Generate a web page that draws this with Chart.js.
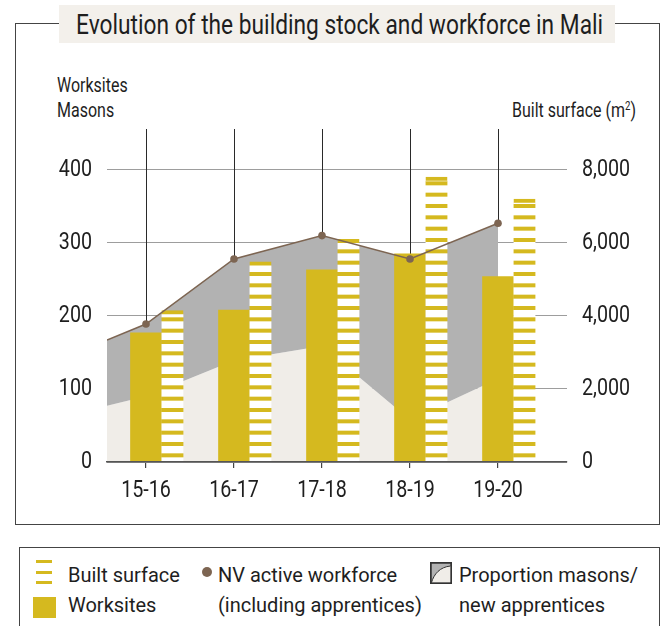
<!DOCTYPE html>
<html lang="en">
<head>
<meta charset="utf-8">
<title>Evolution of the building stock and workforce in Mali</title>
<script src="https://cdn.jsdelivr.net/npm/chart.js@4.4.1/dist/chart.umd.min.js"></script>
<style>
  html, body { margin: 0; padding: 0; background: #fff; }
  body { position: relative; width: 660px; height: 626px; overflow: hidden;
         font-family: Roboto, "Noto Sans", sans-serif; color: #1e1e1e; }
  .abs { position: absolute; white-space: nowrap; line-height: 1; }
  .narrow { transform: scaleX(0.8); transform-origin: 0 0; }
  .narrowR { transform: scaleX(0.8); transform-origin: 100% 0; }
  #frame { position: absolute; left: 15px; top: 23px; width: 645px; height: 502px;
           box-sizing: border-box; border: 1.5px solid #444; }
  #titleBox { position: absolute; left: 59px; top: 5px; width: 556px; height: 38px; background: #f3f0eb; }
  #title { font-size: 28px; left: 76px; top: 11px; transform: scaleX(0.812); transform-origin: 0 0; }
  .axisTitle { font-size: 20px; }
  sup { font-size: 12px; vertical-align: 7px; line-height: 0; }
  #legendBox { position: absolute; left: 19px; top: 547px; width: 641px; height: 100px;
               box-sizing: border-box; border: 1.5px solid #444; }
  .leg { font-size: 20px; }
  #chart { position: absolute; left: 0; top: 0; }
</style>
</head>
<body>
<div id="frame"></div>
<div id="titleBox"></div>
<div id="title" class="abs">Evolution of the building stock and workforce in Mali</div>
<div class="abs axisTitle narrow" style="left:57px; top:75px">Worksites</div>
<div class="abs axisTitle narrow" style="left:57px; top:100px">Masons</div>
<div class="abs axisTitle narrowR" style="right:24px; top:100px">Built surface (m<sup>2</sup>)</div>

<canvas id="chart" width="660" height="540"></canvas>

<div id="legendBox"></div>
<div class="abs" style="left:36px; top:560px; width:16px; height:25px;
     background: repeating-linear-gradient(180deg, #d5b91f 0 3px, transparent 3px 10.5px);"></div>
<div class="abs leg" style="left:68px; top:565px">Built surface</div>
<div class="abs" style="left:33px; top:597px; width:23px; height:21px; background:#d5b91f"></div>
<div class="abs leg" style="left:68px; top:595px">Worksites</div>
<div class="abs" style="left:202px; top:567px; width:10px; height:10px; border-radius:50%; background:#7d6552"></div>
<div class="abs leg" style="left:218px; top:565px">NV active workforce</div>
<div class="abs leg" style="left:218px; top:595px">(including apprentices)</div>
<svg class="abs" style="left:430px; top:562px" width="22" height="22" viewBox="0 0 22 22">
  <rect x="0.75" y="0.75" width="20.5" height="20.5" fill="#b2b2b2" stroke="#333" stroke-width="1.5"/>
  <path d="M1.5 20.5 C4 12 10 5 20.5 4 L20.5 20.5 Z" fill="#f0ede8"/>
  <path d="M1.5 20.5 C4 12 10 5 20.5 4" fill="none" stroke="#333" stroke-width="1"/>
  <rect x="0.75" y="0.75" width="20.5" height="20.5" fill="none" stroke="#333" stroke-width="1.5"/>
</svg>
<div class="abs leg" style="left:459px; top:565px">Proportion masons/</div>
<div class="abs leg" style="left:459px; top:595px">new apprentices</div>

<script>
// seasons on the x axis
const categories = ['15-16', '16-17', '17-18', '18-19', '19-20'];
// left axis: worksites and masons
const worksites = [177, 208, 263, 285, 254];
const workforce = [189, 278, 310, 278, 327];
const apprentices = [90, 139, 159, 58, 114];
// where the shaded band meets the left edge of the plot
const workforceAtEdge = 167;
const apprenticesAtEdge = 77;
// right axis: built surface in m2
const builtSurface = [4150, 5480, 6100, 7800, 7200];
const leftTicks = [0, 100, 200, 300, 400];
const rightTicks = [0, 2000, 4000, 6000, 8000];

const GOLD = '#d5b91f';
const BROWN = '#7d6552';
const INK = '#1e1e1e';
const X_MIN = -0.443, X_MAX = 4.784;
const BAR_SHIFT = 0.301;     // hatched bars sit right of the solid ones
const Y_MAX = 456;
const SURFACE_SCALE = 20;    // 8,000 m2 lines up with 400
const NARROW = 0.82;

const canvas = document.getElementById('chart');
const ctx = canvas.getContext('2d');
// condensed look for the tick labels
const plainFillText = ctx.fillText.bind(ctx);
ctx.fillText = (text, x, y) => plainFillText(text, x, y, ctx.measureText(text).width * NARROW);

function stripes() {
  const c = document.createElement('canvas');
  c.width = 4; c.height = 34;
  const g = c.getContext('2d');
  g.fillStyle = '#fff';
  g.fillRect(0, 0, 4, 34);
  g.fillStyle = GOLD;
  for (let k = 0; k < 3; k++) g.fillRect(0, k * 34 / 3, 4, 4);
  return ctx.createPattern(c, 'repeat');
}

const withEdge = (edge, vals) => [{ x: X_MIN, y: edge }, ...vals.map((v, i) => ({ x: i, y: v }))];
const atIndex = vals => vals.map((v, i) => ({ x: i, y: v }));
const seasonTicks = s => { s.ticks = categories.map((c, i) => ({ value: i })); };
const tickFont = { family: 'Roboto', size: 24 };

const dropLines = {
  id: 'dropLines',
  beforeDatasetsDraw(chart) {
    const { ctx, chartArea } = chart;
    const points = chart.getDatasetMeta(0).data.slice(1);
    ctx.save();
    ctx.strokeStyle = '#2a2a2a';
    ctx.lineWidth = 1;
    points.forEach(p => {
      const x = Math.round(p.x) + 0.5;
      ctx.beginPath();
      ctx.moveTo(x, chartArea.top);
      ctx.lineTo(x, p.y);
      ctx.stroke();
    });
    ctx.restore();
  }
};

new Chart(ctx, {
  data: {
    datasets: [
      {
        type: 'line',
        label: 'NV active workforce',
        data: withEdge(workforceAtEdge, workforce),
        xAxisID: 'x', yAxisID: 'y',
        borderColor: BROWN, borderWidth: 1.5,
        pointRadius: c => c.dataIndex === 0 ? 0 : 3.8,
        pointBackgroundColor: BROWN, pointBorderWidth: 0,
        backgroundColor: '#b2b2b2',
        fill: '+1',
        order: 0
      },
      {
        type: 'line',
        label: 'New apprentices',
        data: withEdge(apprenticesAtEdge, apprentices),
        xAxisID: 'x', yAxisID: 'y',
        borderWidth: 0, pointRadius: 0,
        backgroundColor: '#f0ede8',
        fill: 'origin',
        order: 3
      },
      {
        type: 'bar',
        label: 'Worksites',
        data: atIndex(worksites),
        xAxisID: 'x', yAxisID: 'y',
        backgroundColor: GOLD,
        grouped: false, maxBarThickness: 31,
        barPercentage: 1, categoryPercentage: 1,
        order: 2
      },
      {
        type: 'bar',
        label: 'Built surface',
        data: atIndex(builtSurface),
        xAxisID: 'xBars', yAxisID: 'y2',
        backgroundColor: stripes(),
        borderColor: GOLD,
        borderWidth: { top: 4, left: 0, right: 0, bottom: 0 },
        borderSkipped: false,
        grouped: false, maxBarThickness: 22,
        barPercentage: 1, categoryPercentage: 1,
        order: 1
      }
    ]
  },
  options: {
    responsive: false,
    animation: false,
    layout: { padding: { top: 129, left: 0, right: 0, bottom: 0 } },
    plugins: {
      legend: { display: false },
      tooltip: { enabled: false },
      filler: { drawTime: 'beforeDatasetsDraw' }
    },
    scales: {
      x: {
        type: 'linear', min: X_MIN, max: X_MAX, offset: false,
        afterBuildTicks: seasonTicks,
        afterFit: s => { s.height = 78; },
        ticks: { callback: v => categories[v], font: tickFont, color: INK, padding: 9,
                 autoSkip: false, maxRotation: 0 },
        grid: { offset: false, drawOnChartArea: false, tickLength: 6, color: '#444', lineWidth: 1.2 },
        border: { display: true, color: '#555', width: 1.5, z: 1 }
      },
      xBars: {
        type: 'linear', display: false, offset: false,
        min: X_MIN - BAR_SHIFT, max: X_MAX - BAR_SHIFT,
        afterBuildTicks: seasonTicks,
        grid: { offset: false }
      },
      y: {
        position: 'left', min: 0, max: Y_MAX,
        afterBuildTicks: s => { s.ticks = leftTicks.map(v => ({ value: v })); },
        afterFit: s => { s.width = 107; },
        ticks: { font: tickFont, color: INK, padding: 15 },
        grid: { color: '#9d9d9d', lineWidth: 1, drawTicks: false },
        border: { display: false }
      },
      y2: {
        position: 'right', min: 0, max: Y_MAX * SURFACE_SCALE,
        afterBuildTicks: s => { s.ticks = rightTicks.map(v => ({ value: v })); },
        afterFit: s => { s.width = 93; },
        ticks: { font: tickFont, color: INK, padding: 15,
                 callback: v => v.toLocaleString('en-US') },
        grid: { display: false, drawTicks: false },
        border: { display: false }
      }
    }
  },
  plugins: [dropLines]
});
</script>
</body>
</html>
